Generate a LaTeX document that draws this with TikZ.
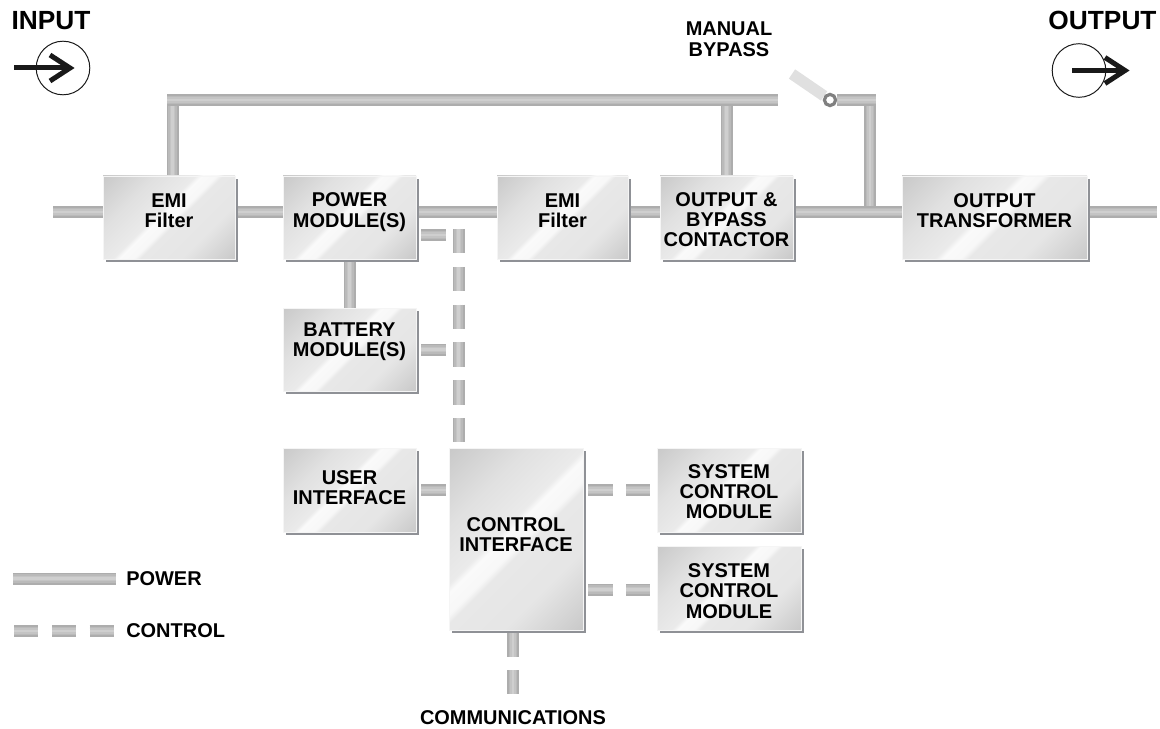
\documentclass[tikz,border=0pt]{standalone}
\usepackage{fontspec}
\setmainfont{Liberation Sans}
\usetikzlibrary{calc,positioning,backgrounds,shadows}
\definecolor{tubeedge}{gray}{0.68}
\definecolor{tubemid}{gray}{0.73}
\definecolor{tubeinner}{gray}{0.77}
\definecolor{tubecore}{gray}{0.81}
\definecolor{boxshadow}{rgb}{0.56,0.57,0.59}
\definecolor{inkblack}{gray}{0.1}
\pgfdeclarehorizontalshading{boxshade}{100bp}{
  color(0bp)=(black!21); color(15bp)=(black!21); color(32bp)=(black!12); color(45bp)=(black!8);
  color(47bp)=(black!2); color(52bp)=(black!3); color(54bp)=(black!9); color(68bp)=(black!10); color(85bp)=(black!21); color(100bp)=(black!21)}
\newcommand{\boxlabel}[2]{\raisebox{#1}[0pt][0pt]{\begin{tabular}{@{}c@{}}#2\end{tabular}}}
\tikzset{
   block/.style={rectangle, shading=boxshade, shading angle=-45, draw=black!4, line width=0.4pt, inner sep=0pt,
     general shadow={fill=boxshadow, shadow xshift=2.3pt, shadow yshift=-2.3pt}, font=\fontsize{14.2}{14.4}\selectfont\bfseries},
   caption/.style={inner sep=0pt, font=\fontsize{14.2}{14.4}\selectfont\bfseries},
   big caption/.style={inner sep=0pt, font=\fontsize{18.7}{20}\selectfont\bfseries},
   power/.style={draw=tubeedge, line width=0.3cm, line join=miter,
     postaction={draw=tubemid, line width=0.22cm}, postaction={draw=tubeinner, line width=0.14cm}, postaction={draw=tubecore, line width=0.06cm}},
   control/.style={power, dash pattern=on 0.61cm off 0.335cm},
   port/.style={circle, draw=inkblack, line width=0.7pt, minimum size=1.34cm, inner sep=0pt},
   flow/.style={draw=inkblack, line width=0.125cm, line join=miter},
   hinge/.style={circle, draw=black!50, fill=white, line width=0.08cm, minimum size=0.28cm, inner sep=0pt}
}

\begin{document}
\begin{tikzpicture}
  \useasboundingbox (0,0) rectangle (29,18.2);

  \node[block,minimum width=3.3cm,minimum height=2.075cm]   at (4.225,12.7625)  (emi in)      {\boxlabel{-0.8pt}{EMI\\Filter}};
  \node[block,minimum width=3.325cm,minimum height=2.075cm] at (8.7375,12.7625) (power module) {\boxlabel{-0.5pt}{POWER\\MODULE(S)}};
  \node[block,minimum width=3.275cm,minimum height=2.075cm] at (14.0625,12.7625) (emi out)    {\boxlabel{-0.8pt}{EMI\\Filter}};
  \node[block,minimum width=3.325cm,minimum height=2.075cm] at (18.1625,12.7625) (contactor)  {\boxlabel{-7pt}{OUTPUT \&\\BYPASS\\CONTACTOR}};
  \node[block,minimum width=4.625cm,minimum height=2.075cm] at (24.8625,12.7625) (transformer) {\boxlabel{-0.5pt}{OUTPUT\\TRANSFORMER}};

  \node[block,minimum width=3.325cm,minimum height=2.075cm] at (8.7375,9.4625) (battery module) {\boxlabel{1.5pt}{BATTERY\\MODULE(S)}};
  \node[block,minimum width=3.325cm,minimum height=2.1cm]   at (8.7375,5.95)   (user interface) {\boxlabel{-4pt}{USER\\INTERFACE}};
  \node[block,minimum width=3.35cm,minimum height=4.55cm]   at (12.9,4.725)    (control interface) {\boxlabel{-2.6pt}{CONTROL\\INTERFACE}};
  \node[block,minimum width=3.6cm,minimum height=2.1cm]     at (18.225,5.95)   (system a) {\boxlabel{-6.7pt}{SYSTEM\\CONTROL\\MODULE}};
  \node[block,minimum width=3.6cm,minimum height=2.1cm]     at (18.225,3.5)    (system b) {\boxlabel{-7.7pt}{SYSTEM\\CONTROL\\MODULE}};

  \node[port] at (1.575,16.5)     (input port)  {};
  \node[port] at (26.975,16.4375) (output port) {};
  \node[big caption] at (1.275,17.6875)  (input label)  {INPUT};
  \node[big caption] at (27.5625,17.6875) (output label) {OUTPUT};
  \node[caption] at (18.225,17.15) (bypass label) {\begin{tabular}{@{}c@{}}MANUAL\\BYPASS\end{tabular}};
  \node[caption] at (12.825,0.25)  (comm label)   {COMMUNICATIONS};
  \node[caption,anchor=west] at (3.15,3.725) (power label)   {POWER};
  \node[caption,anchor=west] at (3.15,2.425) (control label) {CONTROL};

  \node[hinge] at (20.75,15.7) (switch hinge) {};

  \coordinate (main start) at (1.325,12.9);
  \coordinate (main end)   at (28.925,12.9);
  \coordinate (bus start)  at (4.175,15.7);
  \coordinate (bus end)    at (19.45,15.7);
  \coordinate (blade tip)  at (19.8,16.35);
  \coordinate (bypass end) at (21.9,15.7);
  \coordinate (ctrl top)   at (11.4625,12.475);
  \coordinate (comm end)   at (12.825,0.825);
  \coordinate (input start) at (0.35,16.5);
  \coordinate (input tip)   at (1.75,16.5);
  \coordinate (output start) at (26.8,16.4375);
  \coordinate (output tip)   at (28.125,16.4375);
  \coordinate (power key a)   at (0.325,3.7375);
  \coordinate (power key b)   at (2.9,3.7375);
  \coordinate (control key a) at (0.35,2.425);
  \coordinate (control key b) at (2.875,2.425);

  \begin{scope}[on background layer]
    % branches first, the long runs lie over them
    \draw[power] ([xshift=1.375mm]bus start) -- ([xshift=1.375mm]bus start |- emi in.north);
    \draw[power] (bus end -| contactor.north) -- (contactor.north);
    \draw[power] ([xshift=-1.5mm]bypass end) -- ([xshift=-1.5mm]bypass end |- main start);
    \draw[power] (power module) -- (battery module);

    \draw[power] (main start) -- (emi in.west |- main start);
    \foreach \from/\to in {emi in/power module,power module/emi out,emi out/contactor,contactor/transformer}
      \draw[power] (\from.east |- main start) -- (\to.west |- main start);
    \draw[power] (transformer.east |- main start) -- (main end);

    \draw[power] (bus start) -- (bus end);
    \draw[power] (switch hinge) -- (bypass end);
    \draw[draw=black!12,line width=0.28cm] (switch hinge) -- (blade tip);

    \draw[control] (ctrl top) -- (ctrl top |- control interface.north);
    \draw[control] ([xshift=1.25mm,yshift=-4.375mm]power module.east) -- ([yshift=-4.375mm]ctrl top |- power module.east);
    \draw[control] ([xshift=1.25mm]battery module.east) -- (ctrl top |- battery module.east);
    \draw[control] ([xshift=1.25mm]user interface.east) -- (control interface.west |- user interface.east);
    \draw[control] ([xshift=1.25mm]control interface.east |- system a.west) -- (system a.west);
    \draw[control] ([xshift=1.25mm,yshift=-0.4mm]control interface.east |- system b.west) -- ([yshift=-0.4mm]system b.west);
    \draw[control] ([yshift=-0.5mm]comm end |- control interface.south) -- (comm end);

    \draw[power] (power key a) -- (power key b);
    \draw[control] (control key a) -- (control key b);
  \end{scope}

  \draw[flow] (input start) -- (input tip);
  \draw[flow] ([shift={(-0.5,0.325)}]input tip) -- (input tip) -- ([shift={(-0.5,-0.325)}]input tip);
  \draw[flow] (output start) -- (output tip);
  \draw[flow] ([shift={(-0.5,0.325)}]output tip) -- (output tip) -- ([shift={(-0.5,-0.325)}]output tip);
\end{tikzpicture}
\end{document}
